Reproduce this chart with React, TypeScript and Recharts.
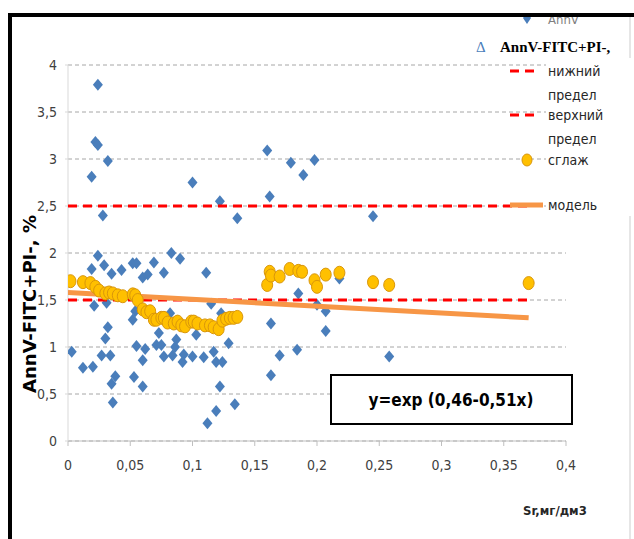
import React from 'react';
import { ScatterChart, Scatter, XAxis, YAxis, CartesianGrid } from 'recharts';

// AnnV-FITC+PI- measured points (Sr, %)
const annvX = [0.003, 0.012, 0.019, 0.019, 0.020, 0.021, 0.022, 0.024, 0.024, 0.024, 0.027, 0.028, 0.029, 0.030, 0.031, 0.032, 0.032, 0.034, 0.035, 0.035, 0.036, 0.038, 0.043, 0.052, 0.055, 0.052, 0.054, 0.055, 0.053, 0.060, 0.060, 0.062, 0.060, 0.064, 0.069, 0.071, 0.075, 0.073, 0.077, 0.077, 0.083, 0.090, 0.082, 0.084, 0.086, 0.087, 0.092, 0.093, 0.100, 0.100, 0.103, 0.111, 0.109, 0.112, 0.115, 0.117, 0.119, 0.119, 0.122, 0.122, 0.123, 0.124, 0.129, 0.134, 0.136, 0.160, 0.162, 0.163, 0.163, 0.170, 0.179, 0.184, 0.185, 0.189, 0.198, 0.200, 0.207, 0.207, 0.218, 0.245, 0.258];
const annvY = [0.95, 0.78, 2.81, 1.83, 0.79, 1.44, 3.18, 3.79, 3.15, 1.97, 0.91, 2.40, 1.87, 1.09, 1.47, 2.98, 1.21, 0.91, 1.78, 0.61, 0.41, 0.69, 1.82, 1.89, 1.89, 1.29, 1.38, 1.01, 0.68, 0.58, 0.86, 0.98, 1.74, 1.77, 1.90, 1.02, 1.02, 1.15, 0.90, 1.79, 2.00, 1.94, 1.36, 0.91, 1.00, 1.08, 0.84, 0.92, 0.90, 2.75, 1.13, 1.79, 0.89, 0.19, 1.46, 0.95, 0.84, 0.32, 0.58, 2.55, 1.36, 0.84, 1.04, 0.39, 2.37, 3.09, 2.60, 1.25, 0.70, 0.91, 2.96, 0.97, 1.57, 2.83, 2.99, 1.45, 1.38, 1.17, 1.73, 2.39, 0.90];

// smoothed series (сглаж)
const smoothX = [0.002, 0.012, 0.018, 0.022, 0.025, 0.030, 0.033, 0.036, 0.040, 0.044, 0.052, 0.054, 0.056, 0.060, 0.063, 0.066, 0.069, 0.071, 0.075, 0.077, 0.080, 0.085, 0.088, 0.091, 0.094, 0.099, 0.101, 0.104, 0.110, 0.114, 0.117, 0.121, 0.124, 0.127, 0.130, 0.133, 0.136, 0.160, 0.162, 0.163, 0.170, 0.178, 0.185, 0.188, 0.198, 0.200, 0.207, 0.218, 0.245, 0.258, 0.370];
const smoothY = [1.70, 1.69, 1.68, 1.64, 1.60, 1.57, 1.58, 1.57, 1.55, 1.54, 1.56, 1.55, 1.50, 1.40, 1.37, 1.38, 1.29, 1.29, 1.31, 1.31, 1.26, 1.25, 1.27, 1.23, 1.22, 1.27, 1.27, 1.25, 1.23, 1.23, 1.21, 1.19, 1.28, 1.30, 1.31, 1.31, 1.32, 1.66, 1.80, 1.76, 1.75, 1.83, 1.81, 1.80, 1.71, 1.64, 1.77, 1.79, 1.69, 1.66, 1.68];

// model line and limits
const modelX = [0, 0.37];
const modelY = [1.58, 1.31];
const limitX = [0, 0.37];
const lowerY = [1.5, 1.5];
const upperY = [2.5, 2.5];

const xTicks = [0, 0.05, 0.1, 0.15, 0.2, 0.25, 0.3, 0.35, 0.4];
const yTicks = [0, 0.5, 1, 1.5, 2, 2.5, 3, 3.5, 4];

const legendLabels = ['AnnV-FITC+PI-,', 'нижний', 'предел', 'верхний', 'предел', 'сглаж', 'модель'];
const equationText = 'y=exp (0,46-0,51x)';
const yTitle = 'AnnV-FITC+PI-, %';
const xTitle = 'Sr,мг/дм3';

const zip = (xs: number[], ys: number[]) => xs.map((x, i) => ({ x, y: ys[i] }));
const annvData = zip(annvX, annvY);
const smoothData = zip(smoothX, smoothY);
const modelData = zip(modelX, modelY);
const lowerData = zip(limitX, lowerY);
const upperData = zip(limitX, upperY);

const FONT = "'Liberation Sans Narrow', 'DejaVu Sans Condensed', 'Roboto', sans-serif";
const fmt = (v: number) => String(v).replace('.', ',');

const Diamond = (p: any) => {
  const { cx, cy } = p;
  if (cx == null || cy == null) return <g />;
  return <path d={`M${cx},${cy - 6}L${cx + 5},${cy}L${cx},${cy + 6}L${cx - 5},${cy}Z`} fill="#4A7EBB" />;
};
const Dot = (p: any) => {
  const { cx, cy } = p;
  if (cx == null || cy == null) return <g />;
  return <ellipse cx={cx} cy={cy} rx={5.5} ry={6.5} fill="#FFC000" stroke="#D9960B" strokeWidth={1} />;
};
const Empty = () => <g />;

export default function App() {
  const txt = { fontFamily: FONT, fill: '#262626' } as any;
  return (
    <div style={{ position: 'absolute', left: 0, top: 0, width: 634, height: 539, background: '#fff', overflow: 'hidden' }}>
      <ScatterChart width={634} height={539} margin={{ top: 65, right: 68, left: 8, bottom: 68 }}>
        <CartesianGrid vertical={false} stroke="#a6a6a6" strokeDasharray="4 3" />
        <XAxis
          type="number"
          dataKey="x"
          domain={[0, 0.4]}
          ticks={xTicks}
          tickFormatter={fmt}
          height={30}
          stroke="#bfbfbf"
          tickSize={5}
          tickMargin={14}
          tick={{ fill: '#404040', fontSize: 14, fontFamily: FONT }}
          allowDataOverflow
        />
        <YAxis
          type="number"
          dataKey="y"
          domain={[0, 4]}
          ticks={yTicks}
          tickFormatter={fmt}
          width={60}
          stroke="#d9d9d9"
          tickSize={3}
          tickMargin={8}
          tick={{ fill: '#404040', fontSize: 14, fontFamily: FONT }}
          allowDataOverflow
        />
        <Scatter data={annvData} shape={Diamond} isAnimationActive={false} />
        <Scatter data={upperData} shape={Empty} line={{ stroke: '#FF0000', strokeWidth: 3, strokeDasharray: '9 6' }} isAnimationActive={false} />
        <Scatter data={lowerData} shape={Empty} line={{ stroke: '#FF0000', strokeWidth: 3, strokeDasharray: '9 6' }} isAnimationActive={false} />
        <Scatter data={modelData} shape={Empty} line={{ stroke: '#F79646', strokeWidth: 5 }} isAnimationActive={false} />
        <Scatter data={smoothData} shape={Dot} isAnimationActive={false} />
      </ScatterChart>
      <svg width={634} height={539} style={{ position: 'absolute', left: 0, top: 0, pointerEvents: 'none' }}>
        {/* clipped top legend entry */}
        <path d="M527,12L531,18L527,24L523,18Z" fill="#4A7EBB" />
        <text x={548} y={24} fontSize={13} {...txt} fill="#7f7f7f">AnnV</text>
        <rect x={0} y={0} width={634} height={13} fill="#fff" />
        <rect x={8} y={13} width={626} height={4} fill="#000" />
        <rect x={8} y={13} width={4} height={526} fill="#000" />
        <line x1={630} y1={17} x2={630} y2={539} stroke="#e6e6e6" strokeWidth={2} />

        {/* legend */}
        <rect x={546} y={58} width={88} height={158} fill="#fff" />
        <text x={476} y={52} fontSize={15} fontFamily="'Liberation Serif', serif" fill="#4A7EBB">Δ</text>
        <text x={500} y={52} fontSize={15} fontWeight="bold" fontFamily="'Liberation Serif', serif" fill="#000">{legendLabels[0]}</text>
        <line x1={510} y1={71} x2={538} y2={71} stroke="#FF0000" strokeWidth={3} strokeDasharray="9 6" />
        <text x={548} y={76} fontSize={14} {...txt}>{legendLabels[1]}</text>
        <text x={548} y={100} fontSize={14} {...txt}>{legendLabels[2]}</text>
        <line x1={510} y1={115} x2={538} y2={115} stroke="#FF0000" strokeWidth={3} strokeDasharray="9 6" />
        <text x={548} y={120} fontSize={14} {...txt}>{legendLabels[3]}</text>
        <text x={548} y={144} fontSize={14} {...txt}>{legendLabels[4]}</text>
        <ellipse cx={527} cy={160} rx={5} ry={6} fill="#FFC000" stroke="#D9960B" />
        <text x={548} y={165} fontSize={14} {...txt}>{legendLabels[5]}</text>
        <line x1={510} y1={205} x2={543} y2={205} stroke="#F79646" strokeWidth={5} />
        <text x={548} y={210} fontSize={14} {...txt}>{legendLabels[6]}</text>

        {/* equation box */}
        <rect x={331} y={375} width={241} height={49} fill="#fff" stroke="#000" strokeWidth={2} />
        <text x={451} y={406} fontSize={17} fontWeight="bold" textAnchor="middle" {...txt} fill="#000">{equationText}</text>

        {/* axis titles */}
        <text transform="translate(36,304) rotate(-90)" textAnchor="middle" fontSize={17} fontWeight="bold" textLength={178} lengthAdjust="spacingAndGlyphs" {...txt} fill="#000">{yTitle}</text>
        <text x={523} y={515} fontSize={13} fontWeight="bold" {...txt} fill="#262626">{xTitle}</text>
      </svg>
    </div>
  );
}
